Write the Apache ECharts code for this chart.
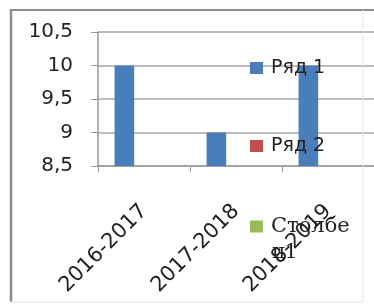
<!DOCTYPE html>
<html><head><meta charset="utf-8">
<script src="https://cdn.jsdelivr.net/npm/echarts@6/dist/echarts.min.js"></script>
<style>html,body{margin:0;padding:0;background:#fff}#c{width:374px;height:308px}</style>
</head><body><div id="c"></div>
<script>
const categories = ['2016-2017', '2017-2018', '2018-2019'];
const seriesNames = ['Ряд 1', 'Ряд 2', 'Столбец1'];
const ryad1 = [10, 9, 10];
const ryad2 = [null, null, null];
const stolbec1 = [null, null, null];
const yMin = 8.5, yMax = 10.5, yStep = 0.5;

const chart = echarts.init(document.getElementById('c'), null, {renderer: 'canvas'});
const colors = ['#4A7EBB', '#C0504D', '#9BBB59'];
const legendBase = {
  orient: 'vertical', left: 250, padding: 0, itemWidth: 13, itemHeight: 12,
  itemGap: 0, icon: 'rect',
  textStyle: {fontFamily: 'DejaVu Sans', fontSize: 19, color: '#222', lineHeight: 20, padding: [0,0,0,3]}
};
chart.setOption({
  animation: false,
  color: colors,
  grid: {left: 98, top: 32, bottom: 142, right: -4, containLabel: false},
  xAxis: {
    type: 'category', data: categories,
    axisLine: {lineStyle: {color: '#999', width: 1.5}},
    axisTick: {show: true, length: 6, lineStyle: {color: '#999'}},
    axisLabel: {rotate: 45, margin: 42, fontFamily: 'DejaVu Sans', fontSize: 21, color: '#222'}
  },
  yAxis: {
    type: 'value', min: yMin, max: yMax, interval: yStep,
    axisLine: {show: true, lineStyle: {color: '#999', width: 1.5}},
    axisTick: {show: true, length: 7, lineStyle: {color: '#999'}},
    splitLine: {lineStyle: {color: '#A6A6A6', width: 1.5}},
    axisLabel: {margin: 25, fontFamily: 'DejaVu Sans', fontSize: 20, color: '#222',
      formatter: v => String(v).replace('.', ',')}
  },
  legend: [
    Object.assign({}, legendBase, {top: 58, data: [seriesNames[0]]}),
    Object.assign({}, legendBase, {top: 136, data: [seriesNames[1]]}),
    Object.assign({}, legendBase, {top: 216, data: [seriesNames[2]],
      formatter: n => n.slice(0, 6),
      textStyle: Object.assign({}, legendBase.textStyle, {fontFamily: 'DejaVu Serif', fontSize: 21})})
  ],
  graphic: [
    {type: 'line', shape: {x1: 11, y1: 9, x2: 11, y2: 302}, style: {stroke: '#8C8C8C', lineWidth: 2.5}, z: 10},
    {type: 'line', shape: {x1: 10, y1: 10, x2: 374, y2: 10}, style: {stroke: '#8C8C8C', lineWidth: 2}, z: 10},
    {type: 'line', shape: {x1: 363, y1: 10, x2: 363, y2: 302}, style: {stroke: '#E4E4E4', lineWidth: 1}, z: 10},
    {type: 'line', shape: {x1: 10, y1: 302, x2: 363, y2: 302}, style: {stroke: '#E4E4E4', lineWidth: 1}, z: 10},
    {type: 'text', left: 272, top: 243, z: 20, style: {text: 'ц1', fontFamily: 'DejaVu Serif', fontSize: 20, fill: '#222'}}
  ],
  series: [
    {name: seriesNames[0], type: 'bar', data: ryad1, barGap: '0%', barCategoryGap: '36%'},
    {name: seriesNames[1], type: 'bar', data: ryad2, barGap: '0%', barCategoryGap: '36%'},
    {name: seriesNames[2], type: 'bar', data: stolbec1, barGap: '0%', barCategoryGap: '36%'}
  ]
});
</script></body></html>
